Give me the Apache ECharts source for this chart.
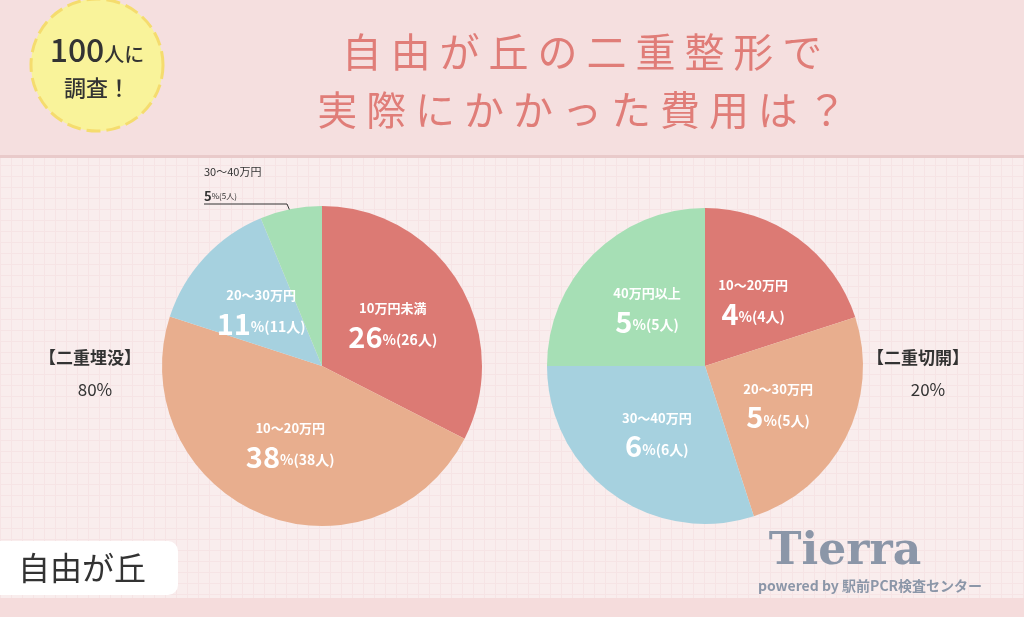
<!DOCTYPE html><html><head><meta charset="utf-8">
<script src="https://cdn.jsdelivr.net/npm/echarts@6/dist/echarts.min.js"></script>
<style>
html,body{margin:0;padding:0;}
#c{width:1024px;height:617px;background-color:#f9eded;
background-image:linear-gradient(#f6e4e5 1px,transparent 1px),linear-gradient(90deg,#f6e4e5 1px,transparent 1px);background-size:11px 11px;}
</style></head><body><div id="c"></div>
<script>
const leftNames=['10万円未満','10～20万円','20～30万円','30～40万円'];
const leftValues=[26,38,11,5];
const rightNames=['10～20万円','20～30万円','30～40万円','40万円以上'];
const rightValues=[4,5,6,5];
const colors=['#dc7a74','#e8ae8e','#a6d1df','#a6dfb5'];
const F='"Noto Sans CJK JP","Noto Sans",sans-serif';
const rich={s:{fontSize:13,color:'#fff',fontFamily:F,lineHeight:28,fontWeight:'bold'},
b:{fontSize:29,color:'#fff',fontFamily:F,fontWeight:'bold'},
p:{fontSize:14,color:'#fff',fontFamily:F,fontWeight:'bold',padding:[6,0,0,0]}};
function lab(n,v){return '{s|'+n+'}\n{b|'+v+'}{p|%('+v+'人)}';}
const chart=echarts.init(document.getElementById('c'));
const leftData=leftNames.map((n,i)=>{const d={name:n,value:leftValues[i],itemStyle:{color:colors[i]}};
 if(i===3){d.label={position:'outside',align:'left',formatter:'{d|'+n+'}\n{e|'+leftValues[i]+'}{f|%('+leftValues[i]+'人)}',
 rich:{d:{fontSize:11,color:'#333',fontFamily:F,lineHeight:24},e:{fontSize:13,color:'#333',fontFamily:F,fontWeight:'bold',lineHeight:24},f:{fontSize:8,color:'#333',fontFamily:F}}};
 d.labelLine={show:true,lineStyle:{color:'#333',width:1}};}
 return d;});
const rightData=rightNames.map((n,i)=>({name:n,value:rightValues[i],itemStyle:{color:colors[i]}}));
chart.setOption({animation:false,
graphic:[
{type:'rect',shape:{x:0,y:0,width:1024,height:155},style:{fill:'#f5dfdf'}},
{type:'rect',shape:{x:0,y:155,width:1024,height:3},style:{fill:'#e9caca'}},
{type:'rect',shape:{x:0,y:598,width:1024,height:19},style:{fill:'#f5dcdc'}},
{type:'circle',shape:{cx:97,cy:65,r:66},style:{fill:'#f9f39a',stroke:'#f5dc6e',lineWidth:3,lineDash:[14,6]}},
{type:'text',x:97,y:50,style:{rich:{a:{font:'500 32px '+F,fill:'#333'},b:{font:'500 20px '+F,fill:'#333',padding:[8,0,0,0]}},text:'{a|100}{b|人に}',align:'center',verticalAlign:'middle'}},
{type:'text',x:97,y:88,style:{text:'調査！',font:'500 22px '+F,fill:'#333',align:'center',verticalAlign:'middle'}},
{type:'text',x:582,y:52,style:{text:'自 由 が 丘 の 二 重 整 形 で',font:'40px '+F,fill:'#e07d78',align:'center',verticalAlign:'middle'}},
{type:'text',x:582,y:110,style:{text:'実 際 に か か っ た 費 用 は ？',font:'40px '+F,fill:'#e07d78',align:'center',verticalAlign:'middle'}},
{type:'text',x:90,y:358,style:{text:'【二重埋没】',font:'bold 17px '+F,fill:'#333',align:'center',verticalAlign:'middle'}},
{type:'text',x:95,y:390,style:{text:'80%',font:'17px '+F,fill:'#333',align:'center',verticalAlign:'middle'}},
{type:'text',x:918,y:358,style:{text:'【二重切開】',font:'bold 17px '+F,fill:'#333',align:'center',verticalAlign:'middle'}},
{type:'text',x:928,y:390,style:{text:'20%',font:'17px '+F,fill:'#333',align:'center',verticalAlign:'middle'}},
{type:'rect',shape:{x:-10,y:541,width:188,height:54,r:10},style:{fill:'#fff'}},
{type:'text',x:82,y:568,style:{text:'自由が丘',font:'32px '+F,fill:'#333',align:'center',verticalAlign:'middle'}},
{type:'text',x:845,y:553,style:{text:'Tierra',font:'bold 44px "DejaVu Serif",serif',fill:'#8b96a8',align:'center',verticalAlign:'middle'}},
{type:'text',x:870,y:586,style:{text:'powered by 駅前PCR検査センター',font:'bold 14px '+F,fill:'#8b96a8',align:'center',verticalAlign:'middle'}}
],
series:[
{type:'pie',center:[322,366],radius:[0,160],startAngle:90,clockwise:true,data:leftData,
 label:{position:'inside',formatter:p=>lab(p.name,p.value),rich:rich},labelLine:{show:false},emphasis:{disabled:true},
 labelLayout:p=>p.dataIndex===3?{x:204,y:184,align:'left',verticalAlign:'middle',labelLinePoints:[[293,218],[287,204],[204,204]]}:{}},
{type:'pie',center:[705,366],radius:[0,158],startAngle:90,clockwise:true,data:rightData,
 label:{position:'inside',formatter:p=>lab(p.name,p.value),rich:rich},labelLine:{show:false},emphasis:{disabled:true}}
]});
</script></body></html>
